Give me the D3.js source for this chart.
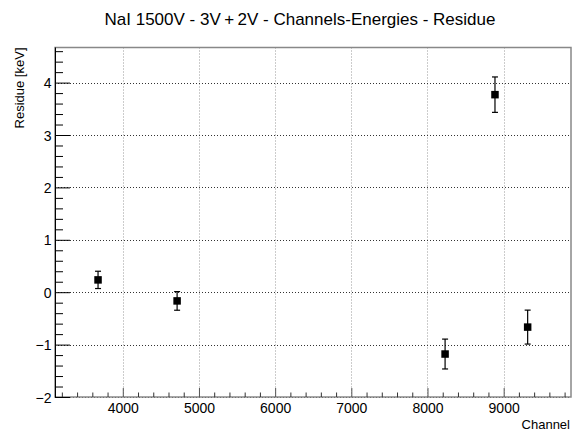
<!DOCTYPE html>
<html>
<head>
<meta charset="utf-8">
<script src="https://cdn.jsdelivr.net/npm/d3@7"></script>
<style>
  body { margin: 0; background: #fff; }
  text { font-family: "Liberation Sans", Arial, Helvetica, sans-serif; fill: #000; }
</style>
</head>
<body>
<div id="chart"></div>
<script>
// residue of the channel -> energy calibration fit, one point per peak
const channels = [3675, 4713, 8231, 8886, 9315];
const residues = [0.235, -0.166, -1.18, 3.77, -0.666];
const errors = [0.165, 0.178, 0.285, 0.338, 0.324];

const xTicks = [4000, 5000, 6000, 7000, 8000, 9000];
const yTicks = [-2, -1, 0, 1, 2, 3, 4];

const drawResidue = (elementId) => {
  const W = 572, H = 432;
  const frame = { left: 55, right: 571, top: 47.5, bottom: 397 };

  const svg = d3
    .select(elementId)
    .append("svg")
    .attr("width", W)
    .attr("height", H);

  const x = d3.scaleLinear().domain([3110, 9884]).range([frame.left, frame.right]);
  const y = d3.scaleLinear().domain([-2, 4.67]).range([frame.bottom, frame.top]);

  // grid
  const grid = svg.append("g").attr("stroke", "#333").attr("stroke-width", 1).attr("stroke-dasharray", "1,2");
  grid
    .selectAll("line.gx")
    .data(xTicks)
    .join("line")
    .attr("x1", (d) => Math.round(x(d)) + 0.5)
    .attr("x2", (d) => Math.round(x(d)) + 0.5)
    .attr("y1", frame.top)
    .attr("y2", frame.bottom)
    .attr("stroke", "#999");
  grid
    .selectAll("line.gy")
    .data(yTicks)
    .join("line")
    .attr("x1", frame.left)
    .attr("x2", frame.right)
    .attr("y1", (d) => Math.round(y(d)) + 0.5)
    .attr("y2", (d) => Math.round(y(d)) + 0.5);

  // frame
  svg
    .append("rect")
    .attr("x", frame.left)
    .attr("y", frame.top)
    .attr("width", frame.right - frame.left)
    .attr("height", frame.bottom - frame.top)
    .attr("fill", "none")
    .attr("stroke", "#888")
    .attr("stroke-width", 1.5);

  // X axis: major ticks every 1000, minor every 200, ticks pointing up
  const xMinor = d3.range(3200, 9884, 200).filter((v) => v % 1000 !== 0);
  svg
    .append("g")
    .attr("transform", `translate(0,${frame.bottom})`)
    .call(d3.axisTop(x).tickValues(xMinor).tickSize(4.5).tickFormat(""))
    .call((g) => g.select(".domain").remove())
    .selectAll("line")
    .attr("stroke", "#333");
  const xAxis = svg
    .append("g")
    .attr("transform", `translate(0,${frame.bottom})`)
    .call(d3.axisTop(x).tickValues(xTicks).tickSize(9).tickFormat(d3.format("d")));
  xAxis.select(".domain").remove();
  xAxis.selectAll("line").attr("stroke", "#555");
  xAxis
    .selectAll("text")
    .attr("y", 16)
    .attr("dy", 0)
    .style("font-size", "14px")
    .style("text-anchor", "middle");

  // Y axis: major ticks every 1, minor every 0.2, ticks pointing right
  const yMinor = d3.range(-1.8, 4.67, 0.2).filter((v) => Math.abs(v - Math.round(v)) > 0.01);
  svg
    .append("g")
    .attr("transform", `translate(${frame.left},0)`)
    .call(d3.axisRight(y).tickValues(yMinor).tickSize(8).tickFormat(""))
    .call((g) => g.select(".domain").remove())
    .selectAll("line")
    .attr("stroke", "#000");
  const yAxis = svg
    .append("g")
    .attr("transform", `translate(${frame.left},0)`)
    .call(d3.axisRight(y).tickValues(yTicks).tickSize(15).tickFormat((d) => d3.format("d")(d).replace("-", "\u2212")));
  yAxis.select(".domain").remove();
  yAxis.selectAll("line").attr("stroke", "#000");
  yAxis
    .selectAll("text")
    .attr("x", -3.5)
    .attr("dy", "0.36em")
    .style("font-size", "14px")
    .style("text-anchor", "end");

  // left axis line
  svg
    .append("line")
    .attr("x1", frame.left + 0.5)
    .attr("x2", frame.left + 0.5)
    .attr("y1", frame.top)
    .attr("y2", frame.bottom)
    .attr("stroke", "#000");

  // error bars
  const pts = channels.map((c, i) => ({ c: c, r: residues[i], e: errors[i] }));
  const bars = svg.append("g").attr("stroke", "#000").attr("stroke-width", 1.2);
  bars
    .selectAll("line.err")
    .data(pts)
    .join("line")
    .attr("x1", (d) => x(d.c))
    .attr("x2", (d) => x(d.c))
    .attr("y1", (d) => y(d.r + d.e))
    .attr("y2", (d) => y(d.r - d.e));
  [1, -1].forEach((s) => {
    bars
      .selectAll(`line.cap${s}`)
      .data(pts)
      .join("line")
      .attr("x1", (d) => x(d.c) - 3)
      .attr("x2", (d) => x(d.c) + 3)
      .attr("y1", (d) => y(d.r + s * d.e))
      .attr("y2", (d) => y(d.r + s * d.e));
  });

  // markers
  svg
    .append("g")
    .selectAll("rect")
    .data(pts)
    .join("rect")
    .attr("x", (d) => x(d.c) - 3.75)
    .attr("y", (d) => y(d.r) - 3.75)
    .attr("width", 7.5)
    .attr("height", 7.5)
    .attr("fill", "#000");

  // titles
  svg
    .append("text")
    .attr("x", 300)
    .attr("y", 24.5)
    .attr("text-anchor", "middle")
    .style("font-size", "17px")
    .text("NaI 1500V - 3V\u2009+\u20092V - Channels-Energies - Residue");

  svg
    .append("text")
    .attr("transform", `translate(24,${frame.top}) rotate(-90)`)
    .attr("text-anchor", "end")
    .style("font-size", "13px")
    .text("Residue [keV]");

  svg
    .append("text")
    .attr("x", 570)
    .attr("y", 429)
    .attr("text-anchor", "end")
    .style("font-size", "13px")
    .text("Channel");
};

drawResidue("#chart");
</script>
</body>
</html>
